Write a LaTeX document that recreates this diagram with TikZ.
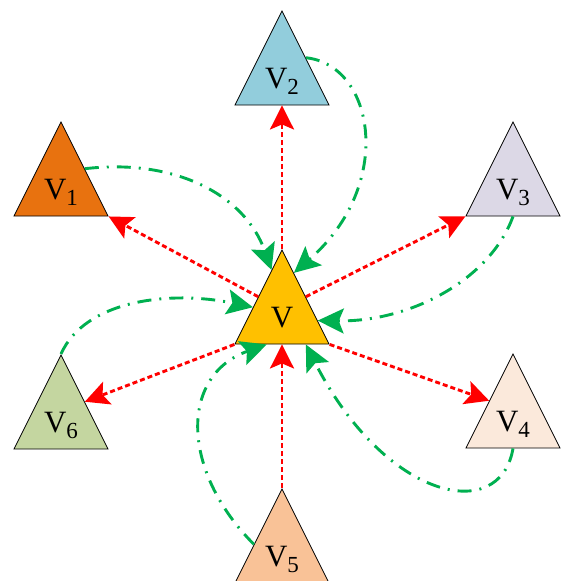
\documentclass[tikz,border=0pt]{standalone}
\usepackage{fontspec}
\setmainfont{Liberation Serif}
\usepackage{tikz}
\usetikzlibrary{arrows.meta, positioning, calc, shapes.geometric}
\definecolor{vorange}{HTML}{E8720F}
\definecolor{vblue}{HTML}{92CDDC}
\definecolor{vlilac}{HTML}{DCD8E6}
\definecolor{vpeach}{HTML}{FBE9DB}
\definecolor{vtan}{HTML}{F9C297}
\definecolor{vsage}{HTML}{C4D6A0}
\definecolor{vgold}{HTML}{FFC000}
\definecolor{vgreen}{HTML}{00B050}
\newcommand{\vlabel}[1]{V\raisebox{-5.5pt}{\fontsize{23}{23}\selectfont #1}}
\tikzset{
	tribox/.style={draw, line width=0.8pt, isosceles triangle, isosceles triangle stretches, shape border rotate=90, minimum width=94pt, minimum height=94pt, inner sep=0pt, anchor=apex, fill=#1, font=\fontsize{31}{31}\selectfont},
	redarr/.style={red, line width=2.9pt, dash pattern=on 5pt off 3pt, -{Stealth[length=24pt, width=24pt, inset=5pt]}},
	greenarr/.style={vgreen, line width=2.9pt, dash pattern=on 14pt off 8pt on 2pt off 8pt, -{Stealth[length=26pt, width=25pt, inset=5pt]}},
}

\begin{document}
\begin{tikzpicture}[x=1pt, y=-1pt]
	\useasboundingbox (0,0) rectangle (562,581);

	% Neighbour triangles
	\node[tribox=vorange] (v1) at (61,121) {\vlabel{1}};
	\node[tribox=vblue] (v2) at (282,10) {\vlabel{2}};
	\node[tribox=vlilac] (v3) at (513,121) {\vlabel{3}};
	\node[tribox=vpeach] (v4) at (513,353) {\vlabel{4}};
	\node[tribox=vtan] (v5) at (282,488) {\vlabel{5}};
	\node[tribox=vsage] (v6) at (61,354) {\vlabel{6}};

	% Centre triangle
	\node[tribox=vgold] (v) at (282,249) {V};

	% Outgoing links
	\draw[redarr] (v.apex) -- (v2.lower side);
	\draw[redarr] (v.left side) -- (v1.right corner);
	\draw[redarr] (v.right side) -- (v3.left corner);
	\draw[redarr] (v.right corner) -- (v4.left side);
	\draw[redarr] (v.left corner) -- (v6.right side);
	\draw[redarr] (v5.apex) -- (v.lower side);

	% Incoming links
	\draw[greenarr] (v1.right side) .. controls (175,158) and (245,195) .. ($(v.apex)!0.22!(v.left corner)$);
	\draw[greenarr] (v2.right side) .. controls (375,65) and (395,185) .. ($(v.apex)!0.25!(v.right corner)$);
	\draw[greenarr] (v3.lower side) .. controls (490,280) and (410,322) .. ($(v.apex)!0.75!(v.right corner)$);
	\draw[greenarr] (v4.lower side) .. controls (500,525) and (385,500) .. ($(v.left corner)!0.75!(v.right corner)$);
	\draw[greenarr] ($(v5.apex)!0.59!(v5.left corner)$) .. controls (180,470) and (180,375) .. ($(v.left corner)!0.34!(v.right corner)$);
	\draw[greenarr] (v6.apex) .. controls (85,300) and (170,290) .. ($(v.apex)!0.61!(v.left corner)$);
\end{tikzpicture}
\end{document}
